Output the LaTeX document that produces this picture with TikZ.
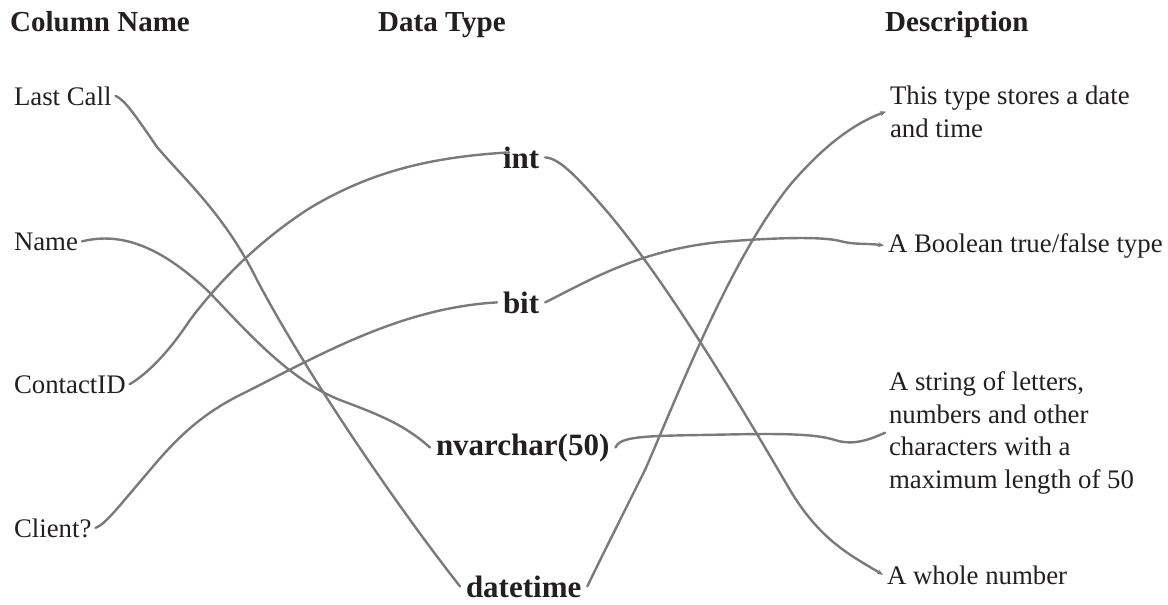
\documentclass[tikz,border=0pt]{standalone}
\usepackage{fontspec}
\setmainfont{LiberationSerif}[
  Extension=.ttf, UprightFont=*-Regular, BoldFont=*-Bold,
  ItalicFont=*-Italic, BoldItalicFont=*-BoldItalic]
\usepackage{tikz}
\usetikzlibrary{arrows.meta}
\definecolor{inkA}{HTML}{231F20}
\definecolor{grayL}{HTML}{7A7A7A}
\tikzset{
  head/.style={
    anchor=base west, inner sep=0pt, text=inkA,
    font=\fontsize{29}{34}\selectfont\bfseries
  },
  colname/.style={
    anchor=base west, inner sep=0pt, outer sep=4pt, text=inkA,
    font=\fontsize{26.8}{32}\selectfont
  },
  dtype/.style={
    anchor=base west, inner sep=0pt, outer sep=6pt, text=inkA,
    font=\fontsize{31}{36}\selectfont\bfseries
  },
  descr/.style={
    anchor=base west, inner sep=0pt, outer sep=4pt, align=left, text=inkA,
    font=\fontsize{26.8}{32.5}\selectfont
  },
  link/.style={draw=grayL, line width=2.4pt, line cap=round},
  tolink/.style={link, -{Stealth[length=6pt,width=5pt]}}
}

\begin{document}
\begin{tikzpicture}[x=1pt, y=-1pt]
  \useasboundingbox (0,0) rectangle (1168,605);
  % headers
  \node[head] (hcol) at (10,31) {Column Name};
  \node[head] (htype) at (378,31) {Data Type};
  \node[head] (hdesc) at (885,31) {Description};
  % column names
  \node[colname] (lastcall) at (10,105) {Last Call};
  \node[colname] (name) at (10,250) {Name};
  \node[colname] (contactid) at (10,393) {ContactID};
  \node[colname] (client) at (10,537) {Client?};
  % data types
  \node[dtype] (int) at (497,168) {int};
  \node[dtype] (bit) at (497,313) {bit};
  \node[dtype] (nvarchar) at (430,455) {nvarchar(50)};
  \node[dtype] (datetime) at (460,597) {datetime};
  % descriptions (base anchor = last line)
  \node[descr] (datedesc) at (886,137) {This type stores a date\\and time};
  \node[descr] (booldesc) at (884,252) {A Boolean true/false type};
  \node[descr] (strdesc) at (885,488) {A string of letters,\\numbers and other\\characters with a\\maximum length of 50};
  \node[descr] (wholedesc) at (883,584) {A whole number};

  % column name -> data type
  \draw[link] (lastcall.east) .. controls (125,100) and (135,115) .. (157,147)
    .. controls (185,180) and (225,215) .. (257,280)
    .. controls (310,380) and (400,510) .. (datetime.west);
  \draw[link] (name.east) .. controls (120,232) and (160,245) .. (210,293)
    .. controls (250,335) and (290,380) .. (340,400)
    .. controls (380,415) and (405,425) .. (nvarchar.west);
  \draw[link] (contactid.east) .. controls (150,372) and (170,350) .. (190,320)
    .. controls (220,280) and (260,240) .. (310,208)
    .. controls (370,172) and (430,157) .. ([xshift=12pt,yshift=5pt]int.west);
  \draw[link] (client.east) .. controls (105,525) and (120,505) .. (150,470)
    .. controls (175,440) and (200,415) .. (240,395)
    .. controls (320,355) and (400,308) .. (bit.west);

  % data type -> description
  \draw[tolink] (int.east) .. controls (560,158) and (580,180) .. (610,215)
    .. controls (660,275) and (720,370) .. (790,490)
    .. controls (820,540) and (850,555) .. (wholedesc.west);
  \draw[tolink] (bit.east) .. controls (590,280) and (640,250) .. (720,242)
    .. controls (770,238) and (820,236) .. (840,241)
    .. controls (855,245) and (865,243) .. (booldesc.west);
  \draw[link] (nvarchar.east) .. controls (620,437) and (640,436) .. (700,435)
    .. controls (760,434) and (810,432) .. (835,440)
    .. controls (850,445) and (865,442) .. (strdesc.west);
  \draw[tolink] (datetime.east) .. controls (595,570) and (620,520) .. (645,470)
    .. controls (680,390) and (730,260) .. (790,185)
    .. controls (820,150) and (850,125) .. (datedesc.west);
\end{tikzpicture}
\end{document}
